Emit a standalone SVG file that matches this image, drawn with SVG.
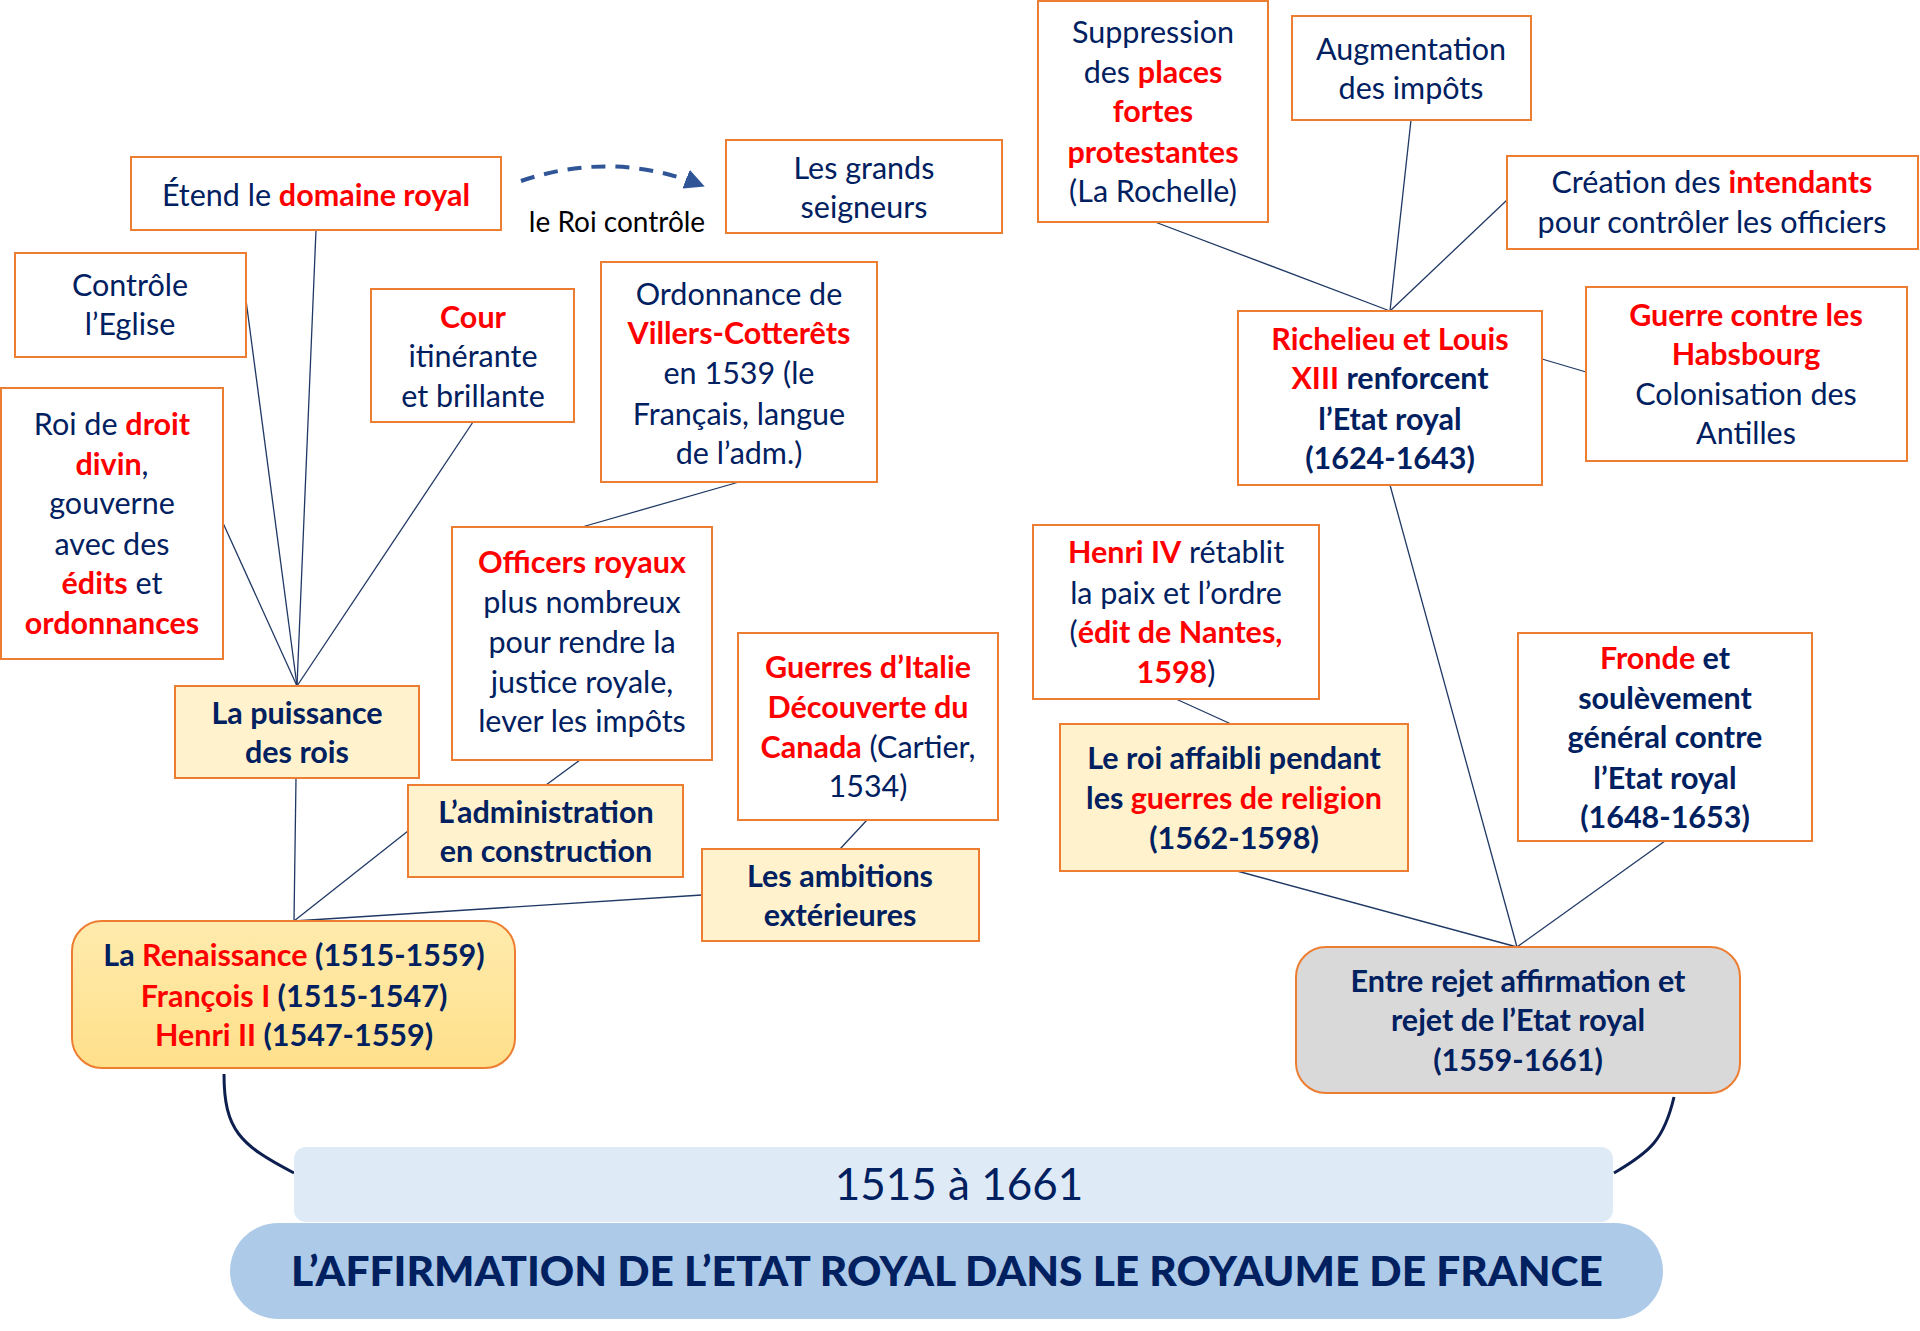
<svg xmlns="http://www.w3.org/2000/svg" width="1920" height="1331" viewBox="0 0 1920 1331">
<defs>
<style>
.box{fill:#fff;stroke:#ED7D31;stroke-width:2}
.fbox{fill:#FFF2CC;stroke:#ED7D31;stroke-width:2}
.t{font-family:Lato,"Open Sans",sans-serif;font-size:30.5px;fill:#002060;text-anchor:middle}
.b{font-weight:bold}
.r{fill:#FF0000;font-weight:bold}
.k{fill:#002060}
.conn line{stroke:#1F3864;stroke-width:1.3}
.curve{fill:none;stroke:#0D1F4F;stroke-width:3}
</style>
<linearGradient id="gy" x1="0" y1="0" x2="0" y2="1">
<stop offset="0" stop-color="#FFEBAE"/>
<stop offset="1" stop-color="#FFE08A"/>
</linearGradient>
<marker id="ah" viewBox="0 0 10 10" refX="8" refY="5" markerWidth="5" markerHeight="5" orient="auto">
<path d="M0,0 L10,5 L0,10 z" fill="#2F5597"/>
</marker>
</defs>
<rect width="1920" height="1331" fill="#fff"/>

<g id="connectors">
<g class="conn">
<line x1="316" y1="230" x2="297" y2="686"/>
<line x1="246" y1="300" x2="297" y2="686"/>
<line x1="223" y1="523" x2="297" y2="686"/>
<line x1="473" y1="422" x2="297" y2="686"/>
<line x1="296" y1="778" x2="294" y2="921"/>
<line x1="408" y1="831" x2="294" y2="921"/>
<line x1="702" y1="895" x2="294" y2="921"/>
<line x1="580" y1="760" x2="546" y2="785"/>
<line x1="739" y1="482" x2="582" y2="527"/>
<line x1="867" y1="820" x2="840" y2="849"/>
<line x1="1155" y1="222" x2="1390" y2="311"/>
<line x1="1411" y1="120" x2="1390" y2="311"/>
<line x1="1507" y1="200" x2="1390" y2="311"/>
<line x1="1586" y1="372" x2="1542" y2="359"/>
<line x1="1390" y1="485" x2="1517" y2="947"/>
<line x1="1176" y1="699" x2="1231" y2="724"/>
<line x1="1237" y1="871" x2="1517" y2="947"/>
<line x1="1665" y1="841" x2="1517" y2="947"/>
</g>
<path class="curve" d="M224,1074 C224,1130 240,1145 294,1173"/>
<path class="curve" d="M1674,1097 C1664,1140 1650,1152 1614,1173"/>
<path d="M521,181 Q612,150 701,185" fill="none" stroke="#2F5597" stroke-width="4" stroke-dasharray="14 10" marker-end="url(#ah)"/>
<text class="t" x="617" y="232" style="fill:#000;font-size:28px">le Roi contrôle</text>
</g>

<g id="n-etend">
<rect class="box" x="131" y="157" width="370" height="73"/>
<text class="t" x="316" y="206">Étend le <tspan class="r">domaine royal</tspan></text>
</g>
<g id="n-seigneurs">
<rect class="box" x="726" y="140" width="276" height="93"/>
<text class="t" x="864" y="179">Les grands</text>
<text class="t" x="864" y="218">seigneurs</text>
</g>
<g id="n-eglise">
<rect class="box" x="15" y="253" width="231" height="104"/>
<text class="t" x="130" y="296">Contrôle</text>
<text class="t" x="130" y="335">l’Eglise</text>
</g>
<g id="n-cour">
<rect class="box" x="371" y="289" width="203" height="133"/>
<text class="t" x="473" y="328"><tspan class="r">Cour</tspan></text>
<text class="t" x="473" y="367">itinérante</text>
<text class="t" x="473" y="407">et brillante</text>
</g>
<g id="n-ordonnance">
<rect class="box" x="601" y="262" width="276" height="220"/>
<text class="t" x="739" y="305">Ordonnance de</text>
<text class="t" x="739" y="344"><tspan class="r">Villers-Cotterêts</tspan></text>
<text class="t" x="739" y="384">en 1539 (le</text>
<text class="t" x="739" y="425">Français, langue</text>
<text class="t" x="739" y="464">de l’adm.)</text>
</g>
<g id="n-droit">
<rect class="box" x="1" y="388" width="222" height="271"/>
<text class="t" x="112" y="435">Roi de <tspan class="r">droit</tspan></text>
<text class="t" x="112" y="475"><tspan class="r">divin</tspan>,</text>
<text class="t" x="112" y="514">gouverne</text>
<text class="t" x="112" y="555">avec des</text>
<text class="t" x="112" y="594"><tspan class="r">édits</tspan> et</text>
<text class="t" x="112" y="634"><tspan class="r">ordonnances</tspan></text>
</g>
<g id="n-officers">
<rect class="box" x="452" y="527" width="260" height="233"/>
<text class="t" x="582" y="573"><tspan class="r">Officers royaux</tspan></text>
<text class="t" x="582" y="613">plus nombreux</text>
<text class="t" x="582" y="653">pour rendre la</text>
<text class="t" x="582" y="693">justice royale,</text>
<text class="t" x="582" y="732">lever les impôts</text>
</g>
<g id="n-puissance">
<rect class="fbox" x="175" y="686" width="244" height="92"/>
<text class="t b" x="297" y="724">La puissance</text>
<text class="t b" x="297" y="763">des rois</text>
</g>
<g id="n-admin">
<rect class="fbox" x="408" y="785" width="275" height="92"/>
<text class="t b" x="546" y="823">L’administration</text>
<text class="t b" x="546" y="862">en construction</text>
</g>
<g id="n-italie">
<rect class="box" x="738" y="633" width="260" height="187"/>
<text class="t" x="868" y="678"><tspan class="r">Guerres d’Italie</tspan></text>
<text class="t" x="868" y="718"><tspan class="r">Découverte du</tspan></text>
<text class="t" x="868" y="758"><tspan class="r">Canada</tspan> (Cartier,</text>
<text class="t" x="868" y="797">1534)</text>
</g>
<g id="n-ambitions">
<rect class="fbox" x="702" y="849" width="277" height="92"/>
<text class="t b" x="840" y="887">Les ambitions</text>
<text class="t b" x="840" y="926">extérieures</text>
</g>
<g id="n-renaissance">
<rect x="72" y="921" width="443" height="147" rx="30" fill="url(#gy)" stroke="#ED7D31" stroke-width="2"/>
<text class="t b" x="294" y="966">La <tspan class="r">Renaissance</tspan> (1515-1559)</text>
<text class="t b" x="294" y="1007"><tspan class="r">François I</tspan> (1515-1547)</text>
<text class="t b" x="294" y="1046"><tspan class="r">Henri II</tspan> (1547-1559)</text>
</g>

<g id="n-suppression">
<rect class="box" x="1038" y="1" width="230" height="221"/>
<text class="t" x="1153" y="43">Suppression</text>
<text class="t" x="1153" y="83">des <tspan class="r">places</tspan></text>
<text class="t" x="1153" y="122"><tspan class="r">fortes</tspan></text>
<text class="t" x="1153" y="163"><tspan class="r">protestantes</tspan></text>
<text class="t" x="1153" y="202">(La Rochelle)</text>
</g>
<g id="n-augmentation">
<rect class="box" x="1292" y="16" width="239" height="104"/>
<text class="t" x="1411" y="60">Augmentation</text>
<text class="t" x="1411" y="99">des impôts</text>
</g>
<g id="n-creation">
<rect class="box" x="1507" y="156" width="411" height="93"/>
<text class="t" x="1712" y="193">Création des <tspan class="r">intendants</tspan></text>
<text class="t" x="1712" y="233">pour contrôler les officiers</text>
</g>
<g id="n-richelieu">
<rect class="box" x="1238" y="311" width="304" height="174"/>
<text class="t b" x="1390" y="350"><tspan class="r">Richelieu et Louis</tspan></text>
<text class="t b" x="1390" y="389"><tspan class="r">XIII</tspan> renforcent</text>
<text class="t b" x="1390" y="430">l’Etat royal</text>
<text class="t b" x="1390" y="469">(1624-1643)</text>
</g>
<g id="n-habsbourg">
<rect class="box" x="1586" y="287" width="321" height="174"/>
<text class="t" x="1746" y="326"><tspan class="r">Guerre contre les</tspan></text>
<text class="t" x="1746" y="365"><tspan class="r">Habsbourg</tspan></text>
<text class="t" x="1746" y="405">Colonisation des</text>
<text class="t" x="1746" y="444">Antilles</text>
</g>
<g id="n-henri4">
<rect class="box" x="1033" y="525" width="286" height="174"/>
<text class="t" x="1176" y="563"><tspan class="r">Henri IV</tspan> rétablit</text>
<text class="t" x="1176" y="604">la paix et l’ordre</text>
<text class="t" x="1176" y="643">(<tspan class="r">édit de Nantes,</tspan></text>
<text class="t" x="1176" y="683"><tspan class="r">1598</tspan>)</text>
</g>
<g id="n-affaibli">
<rect class="fbox" x="1060" y="724" width="348" height="147"/>
<text class="t b" x="1234" y="769">Le roi affaibli pendant</text>
<text class="t b" x="1234" y="809">les <tspan class="r">guerres de religion</tspan></text>
<text class="t b" x="1234" y="849">(1562-1598)</text>
</g>
<g id="n-fronde">
<rect class="box" x="1518" y="633" width="294" height="208"/>
<text class="t b" x="1665" y="669"><tspan class="r">Fronde</tspan> et</text>
<text class="t b" x="1665" y="709">soulèvement</text>
<text class="t b" x="1665" y="748">général contre</text>
<text class="t b" x="1665" y="789">l’Etat royal</text>
<text class="t b" x="1665" y="828">(1648-1653)</text>
</g>
<g id="n-entre">
<rect x="1296" y="947" width="444" height="146" rx="30" fill="#D9D9D9" stroke="#ED7D31" stroke-width="2"/>
<text class="t b" x="1518" y="992">Entre rejet affirmation et</text>
<text class="t b" x="1518" y="1031">rejet de l’Etat royal</text>
<text class="t b" x="1518" y="1071">(1559-1661)</text>
</g>

<g id="n-dates">
<rect x="294" y="1147" width="1319" height="75" rx="12" fill="#DEEBF7"/>
<text class="t" x="959" y="1200" style="font-size:44px">1515 à 1661</text>
</g>
<g id="n-title">
<rect x="230" y="1223" width="1433" height="96" rx="48" fill="#ADCAE8"/>
<text class="t" x="947" y="1286" style="font-size:42.5px;font-weight:900">L’AFFIRMATION DE L’ETAT ROYAL DANS LE ROYAUME DE FRANCE</text>
</g>
</svg>
